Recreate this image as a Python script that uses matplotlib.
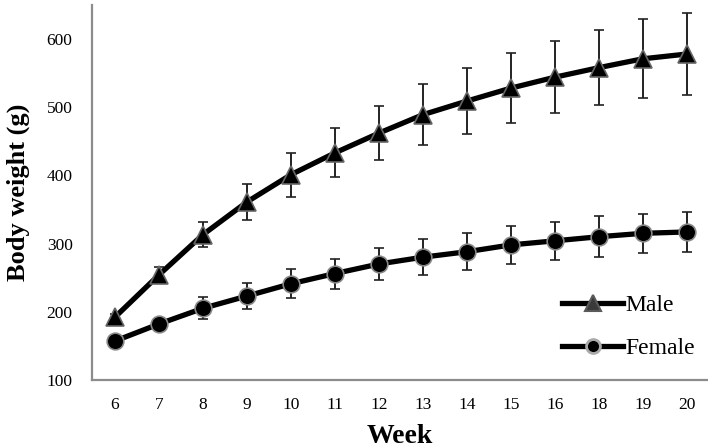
import matplotlib.pyplot as plt
from matplotlib.lines import Line2D
import numpy as np

# semanas (falta la 17)
semanas = ["6", "7", "8", "9", "10", "11", "12", "13", "14", "15", "16", "18", "19", "20"]

# peso machos y desvio
macho = [192, 254, 313, 361, 401, 433, 462, 489, 509, 528, 544, 558, 571, 578]
macho_err = [4, 12, 18, 26, 32, 36, 40, 45, 48, 51, 53, 55, 58, 60]

# peso hembras y desvio
hembra = [157, 182, 205, 223, 241, 256, 270, 280, 288, 298, 304, 310, 315, 317]
hembra_err = [3, 5, 16, 19, 21, 22, 24, 26, 27, 28, 28, 30, 29, 30]

plt.rcParams['font.family'] = ['Liberation Serif', 'DejaVu Serif']

fig = plt.figure(figsize=(7.08, 4.48), dpi=100)
ax = fig.add_axes([0.130, 0.152, 0.870, 0.837])

x = np.arange(len(semanas))

ax.errorbar(x, macho, yerr=macho_err, color='black', lw=3.8, marker='^', ms=13,
            mfc='black', mec='#666666', mew=1.2, ecolor='#222222', elinewidth=1.4,
            capsize=3.5, capthick=1.4, zorder=3)
ax.errorbar(x, hembra, yerr=hembra_err, color='black', lw=3.8, marker='o', ms=12,
            mfc='black', mec='#888888', mew=1.2, ecolor='#222222', elinewidth=1.4,
            capsize=3.5, capthick=1.4, zorder=3)

ax.set_xlim(-0.52, 13.48)
ax.set_ylim(100, 650)
ax.set_yticks([100, 200, 300, 400, 500, 600])
ax.set_xticks(x)
ax.set_xticklabels(semanas)
ax.tick_params(length=0, labelsize=12.5, pad=12)
ax.tick_params(axis='y', pad=14)

for s in ['top', 'right']:
    ax.spines[s].set_visible(False)
for s in ['left', 'bottom']:
    ax.spines[s].set_color('#8c8c8c')
    ax.spines[s].set_linewidth(1.6)

ax.set_xlabel('Week', fontsize=20, fontweight='bold', labelpad=8)
ax.set_ylabel('Body weight (g)', fontsize=19, fontweight='bold', labelpad=12)

# leyenda a mano (sin barras de error)
h_macho = Line2D([], [], color='black', lw=3.8, marker='^', ms=11,
                 mfc='#3a3a3a', mec='#5a5a5a', mew=1.5)
h_hembra = Line2D([], [], color='black', lw=3.8, marker='o', ms=10,
                  mfc='black', mec='#aaaaaa', mew=2)
ax.legend([h_macho, h_hembra], ['Male', 'Female'], loc='lower right',
          bbox_to_anchor=(0.995, 0.03), frameon=False, fontsize=17,
          handlelength=2.6, handletextpad=0.1, labelspacing=0.9, borderaxespad=0)

plt.savefig('out.png', dpi=100)
